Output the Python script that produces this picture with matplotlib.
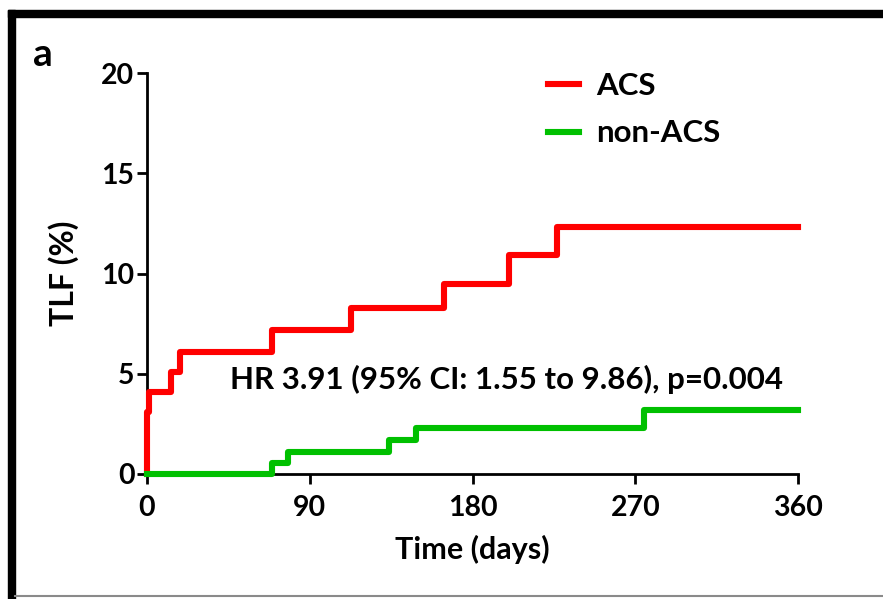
import matplotlib.pyplot as plt
from matplotlib.patches import Rectangle
from matplotlib.lines import Line2D

# Kaplan-Meier curves
acs_days = [0, 0, 1, 13, 18, 69, 113, 164, 200, 227, 360]
acs_tlf = [0, 3.1, 4.1, 5.1, 6.1, 7.2, 8.3, 9.5, 10.9, 12.3, 12.3]
nonacs_days = [0, 69, 78, 134, 149, 275, 360]
nonacs_tlf = [0, 0.55, 1.1, 1.7, 2.3, 3.2, 3.2]

xticks = [0, 90, 180, 270, 360]
yticks = [0, 5, 10, 15, 20]
hr_text = "HR 3.91 (95% CI: 1.55 to 9.86), p=0.004"

plt.rcParams['font.family'] = ['Lato', 'DejaVu Sans']

fig = plt.figure(figsize=(8.83, 5.99), dpi=100)
W, H = 883, 599

# black frame around the panel (top and left), gray line at bottom
fig.patches.append(Rectangle((8 / W, 1 - 17 / H), 1, 7 / H, transform=fig.transFigure,
                             color='black', zorder=0))
fig.patches.append(Rectangle((8 / W, 0), 7 / W, 1 - 10 / H, transform=fig.transFigure,
                             color='black', zorder=0))
fig.lines.append(Line2D([15 / W, 1], [3 / H, 3 / H], transform=fig.transFigure,
                        color='#8a8a8a', lw=1.5))

ax = fig.add_axes([147 / W, 1 - 474 / H, 651 / W, 401 / H])
ax.plot(acs_days, acs_tlf, drawstyle='steps-post', color='#ff0000', lw=4.4,
        label='ACS', clip_on=False, zorder=3)
ax.plot(nonacs_days, nonacs_tlf, drawstyle='steps-post', color='#00c000', lw=4.4,
        label='non-ACS', clip_on=False, zorder=4)

ax.set_xlim(0, 360)
ax.set_ylim(0, 20)
ax.set_xticks(xticks)
ax.set_yticks(yticks)
for s in ['top', 'right']:
    ax.spines[s].set_visible(False)
for s in ['left', 'bottom']:
    ax.spines[s].set_linewidth(2)
ax.tick_params(direction='out', length=7, width=2, labelsize=20.5)
ax.tick_params(axis='x', pad=8)
ax.tick_params(axis='y', pad=2)
for lab in ax.get_xticklabels() + ax.get_yticklabels():
    lab.set_fontweight('bold')

ax.set_xlabel("Time (days)", fontsize=22, fontweight='bold', labelpad=10)
ax.set_ylabel("TLF (%)", fontsize=23, fontweight='bold', labelpad=16)

ax.text(199, 4.7, hr_text, ha='center', va='center', fontsize=22.5, fontweight='bold')

leg = ax.legend(loc='upper left', bbox_to_anchor=(520 / W, 1 - 44 / H),
                bbox_transform=fig.transFigure, frameon=False,
                prop={'size': 22.5, 'weight': 'bold'},
                handlelength=1.0, handletextpad=0.55, labelspacing=0.62)

fig.text(43 / W, 1 - 55 / H, "a", fontsize=28, fontweight='bold', ha='center', va='center')

fig.savefig("out.png", dpi=100)
